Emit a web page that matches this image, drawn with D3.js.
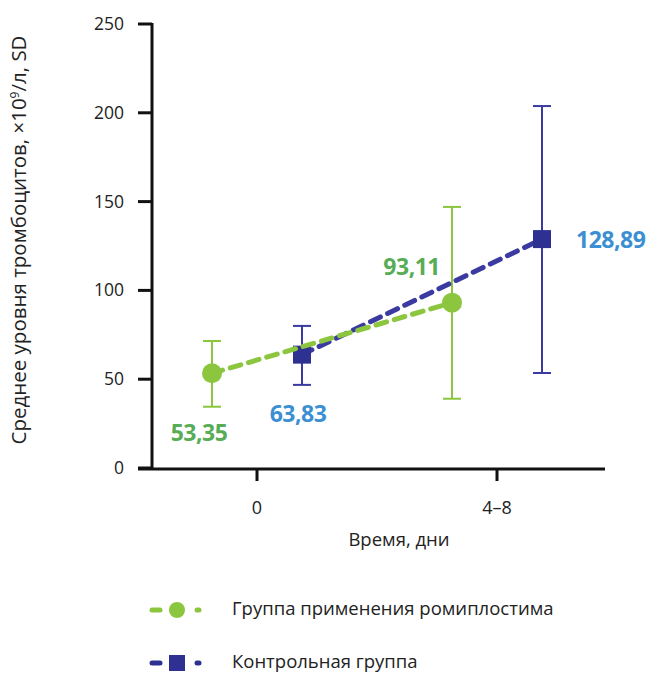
<!DOCTYPE html>
<head>
  <meta charset="utf-8">
  <script src="https://d3js.org/d3.v7.min.js"></script>
  <style>
  body,html {font-family:"Open Sans", sans-serif; margin:0; background:#fff;}
  </style>
</head>
<body>
<script>
  // data
  const times = ["0", "4–8"];
  const yTicks = [0, 50, 100, 150, 200, 250];
  const romiMean = [53.35, 93.11];
  const romiLow = [34.5, 39];
  const romiHigh = [71.5, 147];
  const ctrlMean = [63.83, 128.89];
  const ctrlLow = [46.8, 53.5];
  const ctrlHigh = [80, 203.8];
  const romiLabels = ["53,35", "93,11"];
  const ctrlLabels = ["63,83", "128,89"];

  const GREEN = "#8cc63f", GREEN_TXT = "#56ad55";
  const BLUE = "#2f3192", BLUE_LINE = "#3a3aa0", BLUE_TXT = "#3b8fd2";

  const svg = d3.select("body").append("svg").attr("width", 667).attr("height", 674);

  const y = d3.scaleLinear().domain([0, 250]).range([468, 24]);
  const x = d3.scalePoint().domain(times).range([257, 497]);
  const OFF = 45;

  // y axis
  svg.append("line").attr("x1", 152).attr("x2", 152).attr("y1", y(250) - 1).attr("y2", 470)
    .attr("stroke", "#111").attr("stroke-width", 3);
  svg.selectAll(".yt").data(yTicks).enter().append("line")
    .attr("x1", 138).attr("x2", 152).attr("y1", d => y(d)).attr("y2", d => y(d))
    .attr("stroke", "#111").attr("stroke-width", 3);
  svg.selectAll(".yl").data(yTicks).enter().append("text")
    .attr("x", 124).attr("y", d => y(d) + 6).attr("text-anchor", "end")
    .attr("font-size", 17.5).attr("fill", "#222").text(d => d);
  svg.append("text").attr("transform", "translate(26,240) rotate(-90)")
    .attr("text-anchor", "middle").attr("font-size", 20.5).attr("fill", "#222")
    .html("Среднее уровня тромбоцитов, ×10<tspan dy='-7' font-size='12'>9</tspan><tspan dy='7'>/л, SD</tspan>");

  // x axis
  svg.append("line").attr("x1", 138).attr("x2", 605).attr("y1", 469).attr("y2", 469)
    .attr("stroke", "#111").attr("stroke-width", 3);
  svg.selectAll(".xt").data(times).enter().append("line")
    .attr("x1", d => x(d)).attr("x2", d => x(d)).attr("y1", 469).attr("y2", 481)
    .attr("stroke", "#111").attr("stroke-width", 3);
  svg.selectAll(".xl").data(times).enter().append("text")
    .attr("x", d => x(d)).attr("y", 514).attr("text-anchor", "middle")
    .attr("font-size", 18).attr("fill", "#222").text(d => d);
  svg.append("text").attr("x", 399).attr("y", 546).attr("text-anchor", "middle")
    .attr("font-size", 18.5).attr("fill", "#222").text("Время, дни");

  function errBars(mean, lo, hi, off, color) {
    const g = svg.append("g");
    times.forEach((t, i) => {
      const cx = x(t) + off;
      g.append("line").attr("x1", cx).attr("x2", cx).attr("y1", y(lo[i])).attr("y2", y(hi[i]))
        .attr("stroke", color).attr("stroke-width", 2);
      [lo[i], hi[i]].forEach(v => g.append("line").attr("x1", cx - 9).attr("x2", cx + 9)
        .attr("y1", y(v)).attr("y2", y(v)).attr("stroke", color).attr("stroke-width", 2));
    });
  }
  errBars(romiMean, romiLow, romiHigh, -OFF, GREEN);
  errBars(ctrlMean, ctrlLow, ctrlHigh, OFF, BLUE_LINE);

  const line = d3.line().x(d => d[0]).y(d => d[1]);
  const ctrlPts = times.map((t, i) => [x(t) + OFF, y(ctrlMean[i])]);
  const romiPts = times.map((t, i) => [x(t) - OFF, y(romiMean[i])]);

  svg.append("path").attr("d", line(ctrlPts)).attr("fill", "none")
    .attr("stroke", BLUE_LINE).attr("stroke-width", 5).attr("stroke-dasharray", "11,8").attr("stroke-linecap", "round");
  svg.selectAll(".sq").data(ctrlPts).enter().append("rect")
    .attr("x", d => d[0] - 9).attr("y", d => d[1] - 9).attr("width", 18).attr("height", 18).attr("fill", BLUE);
  svg.append("path").attr("d", line(romiPts)).attr("fill", "none")
    .attr("stroke", GREEN).attr("stroke-width", 5).attr("stroke-dasharray", "11,8").attr("stroke-linecap", "round");
  svg.selectAll(".ci").data(romiPts).enter().append("circle")
    .attr("cx", d => d[0]).attr("cy", d => d[1]).attr("r", 10).attr("fill", GREEN);

  // value labels
  const lbl = (px, py, txt, col, anchor) => svg.append("text").attr("x", px).attr("y", py)
    .attr("text-anchor", anchor).attr("font-size", 23).attr("font-weight", "bold")
    .attr("fill", col).attr("letter-spacing", -0.5).text(txt);
  lbl(romiPts[0][0] - 13, 441, romiLabels[0], GREEN_TXT, "middle");
  lbl(ctrlPts[0][0] - 4, 422, ctrlLabels[0], BLUE_TXT, "middle");
  lbl(romiPts[1][0] - 12, 275, romiLabels[1], GREEN_TXT, "end");
  lbl(ctrlPts[1][0] + 34, 248, ctrlLabels[1], BLUE_TXT, "start");

  // legend
  const leg = [
    {t: "Группа применения ромиплостима", c: GREEN, shape: "circle", yy: 610},
    {t: "Контрольная группа", c: BLUE, shape: "rect", yy: 663}
  ];
  leg.forEach(l => {
    svg.append("line").attr("x1", 152).attr("x2", 160).attr("y1", l.yy).attr("y2", l.yy)
      .attr("stroke", l.c).attr("stroke-width", 5).attr("stroke-linecap", "round");
    svg.append("line").attr("x1", 197).attr("x2", 199).attr("y1", l.yy).attr("y2", l.yy)
      .attr("stroke", l.c).attr("stroke-width", 5).attr("stroke-linecap", "round");
    if (l.shape === "circle") svg.append("circle").attr("cx", 177).attr("cy", l.yy).attr("r", 8).attr("fill", l.c);
    else svg.append("rect").attr("x", 169).attr("y", l.yy - 8).attr("width", 16).attr("height", 16).attr("fill", l.c);
    svg.append("text").attr("x", 232).attr("y", l.yy + 5).attr("font-size", 18.5).attr("fill", "#222").text(l.t);
  });
</script>
</body>
